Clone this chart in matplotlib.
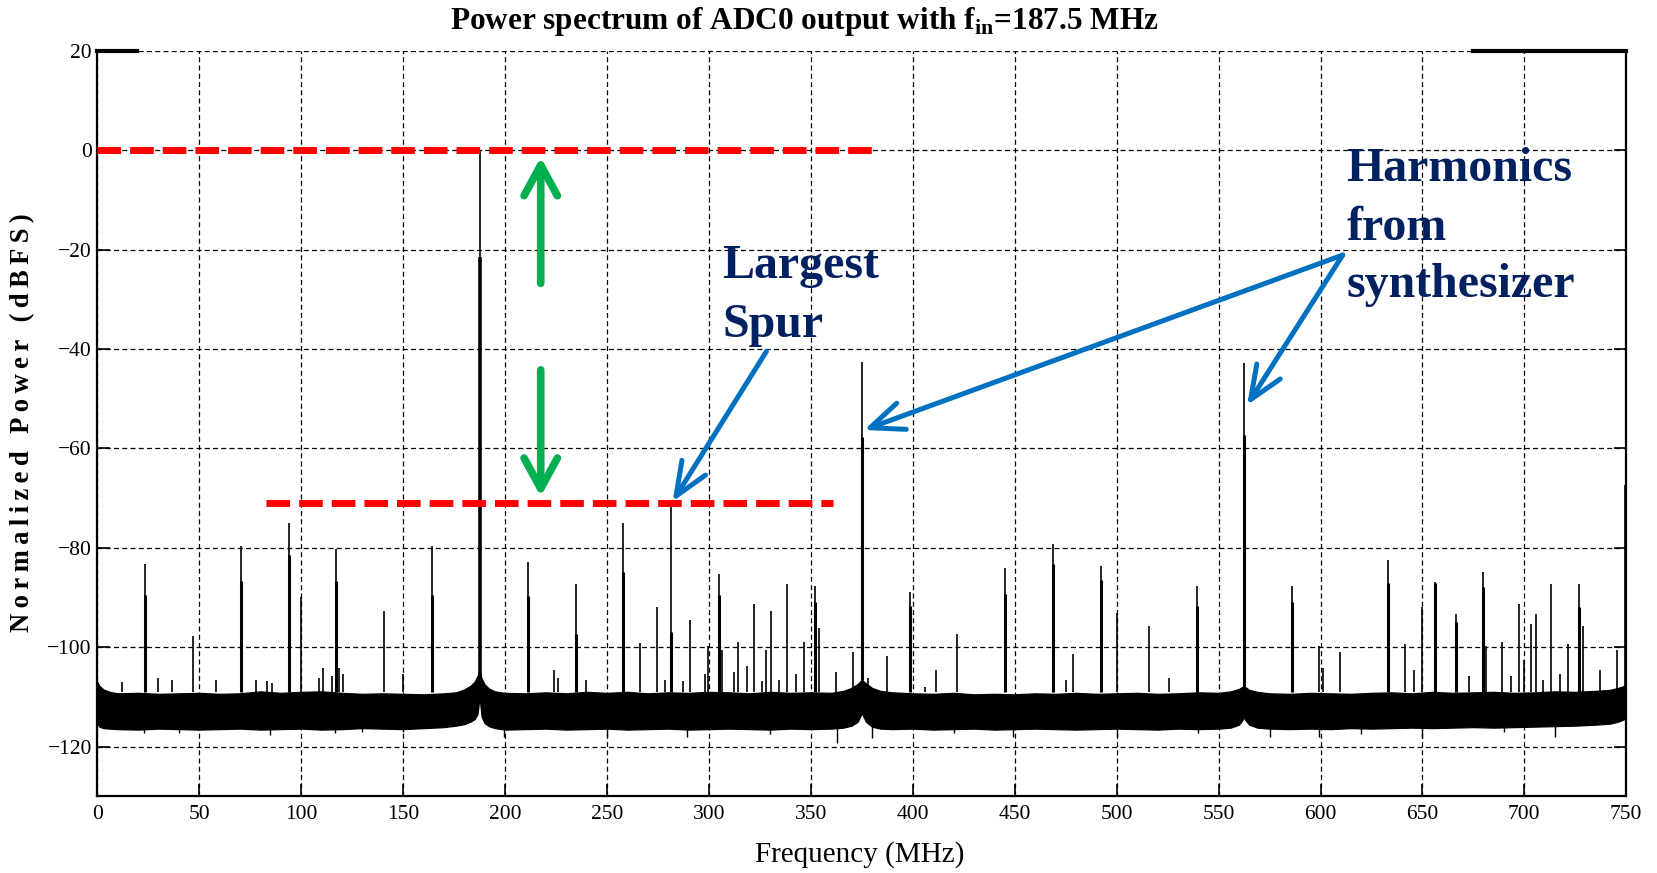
import matplotlib
matplotlib.use("Agg")
import matplotlib.pyplot as plt

# ---------------- data ----------------
x_ticks = [0, 50, 100, 150, 200, 250, 300, 350, 400, 450, 500, 550, 600, 650, 700, 750]
y_ticks = [-120, -100, -80, -60, -40, -20, 0, 20]

# fundamental tone
tone_freq = 187.5
tone_peak = 0.0
tone_shoulder = -21.4

# spurs: frequency (MHz) and peak level (dBFS)
spur_freq = [12.3, 23.5, 29.8, 36.5, 46.8, 58.2, 70.3, 77.7, 83.1, 85.5, 93.9, 99.9,
             108.9, 110.5, 115.0, 117.2, 118.7, 120.4, 140.6, 150.1, 164.0,
             211.1, 224.0, 226.1, 234.6, 239.9, 258.0, 266.4, 274.7, 278.5, 281.25,
             287.4, 290.6, 298.1, 299.7, 304.8, 306.4, 312.5, 314.1, 318.6, 322.3,
             326.2, 328.2, 330.6, 334.6, 338.2, 342.6, 346.5, 351.8, 354.2, 362.4,
             370.9, 375.0, 378.2, 387.2, 398.6, 406.0, 411.6, 421.9, 445.2, 469.0,
             475.0, 478.7, 492.3, 500.0, 515.8, 525.8, 539.2, 562.5, 586.0, 599.4,
             601.1, 609.6, 633.0, 641.3, 645.9, 649.6, 656.0, 666.3, 673.0, 679.9,
             681.2, 689.0, 693.5, 697.2, 699.8, 703.3, 705.7, 709.3, 713.1, 717.6,
             721.5, 726.6, 728.9, 737.2, 745.6, 749.6]
spur_db = [-107.0, -83.3, -106.3, -106.6, -97.7, -106.6, -79.6, -106.6, -106.8, -107.3, -75.1, -90.0,
           -106.3, -104.3, -105.8, -80.3, -104.3, -105.5, -92.8, -105.4, -79.6,
           -82.8, -104.6, -106.3, -87.3, -106.6, -75.1, -99.2, -92.0, -106.6, -71.1,
           -106.9, -94.5, -105.5, -99.8, -85.3, -100.5, -105.0, -99.0, -103.7, -91.3,
           -106.9, -100.5, -92.8, -106.6, -87.3, -105.5, -99.0, -87.6, -96.2, -105.0,
           -100.9, -42.6, -106.3, -101.8, -88.9, -108.0, -104.6, -97.3, -84.0, -79.2,
           -106.6, -101.4, -83.6, -93.1, -95.7, -106.3, -87.7, -42.9, -87.7, -99.8,
           -104.3, -101.0, -82.5, -99.3, -104.6, -92.0, -86.8, -93.3, -105.8, -84.8,
           -99.8, -99.0, -105.8, -91.3, -102.5, -95.4, -93.3, -106.6, -87.3, -105.5,
           -99.3, -87.3, -95.7, -104.6, -100.5, -67.4]

# thicker lower part of the larger spurs (neighbouring bins)
shoulder_freq = [23.5, 70.3, 93.9, 117.2, 164.0, 211.1, 234.6, 258.0, 281.25, 304.8,
                 351.8, 375.0, 398.6, 445.2, 469.0, 492.3, 539.2, 562.5, 586.0, 633.0,
                 656.0, 666.3, 679.9, 726.6]
shoulder_db = [-89.6, -86.7, -81.5, -86.7, -89.6, -89.7, -97.4, -84.8, -97.0, -89.5,
               -91.0, -57.8, -91.7, -89.3, -83.3, -86.5, -91.7, -57.4, -91.0, -87.0,
               -87.0, -95.0, -88.0, -92.0]

# noise floor envelope (top and bottom of the dense band)
noise_freq = [0, 1, 3, 6, 10, 20, 30, 40, 50, 60, 70, 80, 90, 100, 110, 120, 130, 140, 150, 160,
              170, 176, 180, 183, 185, 186.5, 187.2, 187.5, 187.8, 188.5, 190, 192, 195, 200,
              210, 220, 230, 240, 250, 260, 270, 280, 290, 300, 310, 320, 330, 340, 350, 360,
              366, 370, 373, 375, 377, 380, 384, 390, 400, 410, 420, 430, 440, 450, 460, 470,
              480, 490, 500, 510, 520, 530, 540, 550, 556, 560, 562, 562.5, 563, 565, 569,
              575, 585, 595, 605, 615, 625, 635, 645, 655, 665, 675, 685, 695, 705, 715, 725,
              735, 742, 746, 749, 750]
noise_top = [-107.0, -107.8, -108.5, -109.0, -109.3, -109.2, -109.4, -109.3, -109.2, -109.4,
             -109.3, -108.9, -109.2, -109.0, -108.9, -109.2, -109.4, -109.3, -109.4, -109.5,
             -109.3, -109.1, -108.5, -107.8, -107.0, -105.8, -104.8, -104.6, -105.2, -106.3,
             -107.5, -108.3, -108.9, -109.2,
             -109.3, -109.1, -109.3, -109.0, -109.2, -109.0, -109.3, -109.1, -109.2, -109.0,
             -109.1, -109.3, -109.0, -109.2, -109.1, -109.2,
             -108.8, -108.2, -107.4, -106.6, -107.3, -108.2, -108.8, -109.1, -109.3, -109.4,
             -109.2, -109.5, -109.4, -109.5, -109.3, -109.4,
             -109.2, -109.4, -109.3, -109.2, -109.4, -109.3, -109.1, -109.2, -108.9, -108.4,
             -107.9, -107.7, -108.0, -108.6, -109.0,
             -109.3, -109.4, -109.2, -109.3, -109.4, -109.2, -109.1, -109.3, -109.0, -109.2,
             -109.1, -109.0, -109.2, -109.1, -108.9, -109.0,
             -108.8, -108.6, -108.2, -107.8, -107.0]
noise_bottom = [-115.5, -116.0, -116.3, -116.4, -116.5, -116.6, -116.4, -116.5, -116.6, -116.5,
                -116.4, -116.6, -116.5, -116.4, -116.6, -116.5, -116.3, -116.4, -116.5, -116.3,
                -116.1, -115.8, -115.5, -115.0, -114.5, -113.5, -111.0, -109.8, -111.2, -114.0,
                -115.3, -115.9, -116.3, -116.6,
                -116.5, -116.4, -116.6, -116.5, -116.4, -116.6, -116.5, -116.4, -116.6, -116.5,
                -116.4, -116.5, -116.6, -116.4, -116.5, -116.4,
                -116.2, -115.8, -115.0, -113.3, -115.0, -116.0, -116.4, -116.5, -116.4, -116.6,
                -116.5, -116.4, -116.6, -116.5, -116.4, -116.5,
                -116.6, -116.5, -116.4, -116.5, -116.6, -116.4, -116.5, -116.4, -116.2, -115.6,
                -114.5, -114.0, -114.6, -115.6, -116.2,
                -116.4, -116.5, -116.4, -116.5, -116.3, -116.4, -116.3, -116.2, -116.3, -116.2,
                -116.1, -116.2, -116.1, -116.0, -115.9, -115.8,
                -115.6, -115.4, -115.0, -114.5, -113.8]

# downward excursions of the noise floor
dip_freq = [22.8, 40.0, 84.7, 116.5, 130.0, 150.0, 199.5, 249.9, 289.5, 330.0, 362.7,
            379.8, 420.0, 449.3, 500.0, 540.0, 575.2, 599.4, 620.0, 649.6, 690.0, 715.0]
dip_db = [-117.3, -117.2, -117.6, -117.3, -117.0, -117.0, -118.0, -118.0, -118.0, -117.4, -119.2,
          -118.3, -117.3, -118.0, -118.0, -117.2, -118.0, -118.0, -117.4, -118.2, -117.1, -118.0]

# annotation levels
carrier_level = 0.0
largest_spur_level = -71.0

# ---------------- figure ----------------
plt.rcParams['font.family'] = ['Liberation Serif', 'DejaVu Serif']
plt.rcParams['mathtext.fontset'] = 'custom'
plt.rcParams['mathtext.rm'] = 'Liberation Serif'
plt.rcParams['mathtext.bf'] = 'Liberation Serif:bold'

fig = plt.figure(figsize=(16.58, 8.73), dpi=100)
ax = fig.add_axes([0.05869, 0.08797, 0.92219, 0.85384])
ax.set_xlim(0, 750)
ax.set_ylim(-130, 20)
ax.set_xticks(x_ticks)
ax.set_yticks(y_ticks)
ax.tick_params(direction='in', length=9, width=1.2, right=True, top=False,
               labelsize=15.5, pad=6)
ax.tick_params(axis='y', pad=4)
ax.grid(True, color='black', linestyle=(0, (4, 2.6)), linewidth=0.9)
ax.set_axisbelow(True)
for s in ['left', 'bottom', 'right']:
    ax.spines[s].set_linewidth(1.6)
ax.spines['top'].set_visible(False)
ax.plot([0, 19.7], [20, 20], color='black', lw=3, clip_on=False, zorder=3)
ax.plot([674.6, 750], [20, 20], color='black', lw=3, clip_on=False, zorder=3)

# noise floor
ax.fill_between(noise_freq, noise_bottom, noise_top, color='black', lw=0.9, zorder=2)
ax.vlines(dip_freq, -115.5, dip_db, color='black', lw=1.0, zorder=2)

# spurs
ax.vlines(spur_freq, -109.0, spur_db, color='black', lw=1.2, zorder=2)
ax.vlines(shoulder_freq, -109.0, shoulder_db, color='black', lw=2.2, zorder=2)
ax.vlines([tone_freq], -109.0, [tone_peak], color='black', lw=1.2, zorder=2)
ax.vlines([tone_freq], -109.0, [tone_shoulder], color='black', lw=2.6, zorder=2)

# red dashed reference lines
red_ls = (0, (3.4, 1.3))
ax.plot([0, 383], [carrier_level, carrier_level], color='#FF0000', lw=5, ls=red_ls,
        zorder=5, dash_capstyle='butt')
ax.plot([82.6, 361.0], [largest_spur_level, largest_spur_level], color='#FF0000', lw=5,
        ls=red_ls, zorder=5, dash_capstyle='butt')

# green arrows
green = '#00B050'
for tip, tail in [((217.5, -1.4), (217.5, -26.8)), ((217.5, -69.7), (217.5, -44.2))]:
    ax.annotate('', xy=tip, xytext=tail,
                arrowprops=dict(arrowstyle='->,head_length=1.1,head_width=0.6',
                                color=green, lw=5.5, shrinkA=0, shrinkB=0,
                                mutation_scale=20, capstyle='round', joinstyle='round'),
                zorder=6)

# blue arrows
blue = '#0070C0'
blue_arrows = [((282.2, -70.7), (328.2, -40.5)),
               ((376.1, -56.3), (610.9, -21.1)),
               ((564.0, -51.3), (610.9, -21.1))]
for tip, tail in blue_arrows:
    ax.annotate('', xy=tip, xytext=tail,
                arrowprops=dict(arrowstyle='->,head_length=1.2,head_width=0.5',
                                color=blue, lw=3.6, shrinkA=0, shrinkB=0,
                                mutation_scale=20, capstyle='round', joinstyle='round'),
                zorder=6)

# annotation texts
navy = '#002060'
txt_kw = dict(color=navy, fontsize=34.5, fontweight='bold', ha='left', va='baseline', zorder=7)
ax.text(306.6, -25.8, 'Largest', **txt_kw)
ax.text(306.6, -37.5, 'Spur', **txt_kw)
ax.text(612.8, -6.3, 'Harmonics', **txt_kw)
ax.text(612.8, -18.1, 'from', **txt_kw)
ax.text(612.8, -29.5, 'synthesizer', **txt_kw)

# titles / labels
fig.text(804.7 / 1658, 1 - 28.5 / 873,
         r'Power spectrum of ADC0 output with f$_{\mathbf{in}}$=187.5 MHz',
         ha='center', va='baseline', fontsize=22.5, fontweight='bold')
fig.text(859.6 / 1658, 1 - 854.4 / 873, 'Frequency (MHz)', ha='center', va='center',
         fontsize=21)
ylabel = 'Normalized Power (dBFS)'
fig.text(23 / 1658, 1 - 423 / 873, '\u2009'.join(ylabel), ha='center', va='center',
         rotation=90, fontsize=19.2, fontweight='bold')

fig.savefig('out.png', dpi=100)
